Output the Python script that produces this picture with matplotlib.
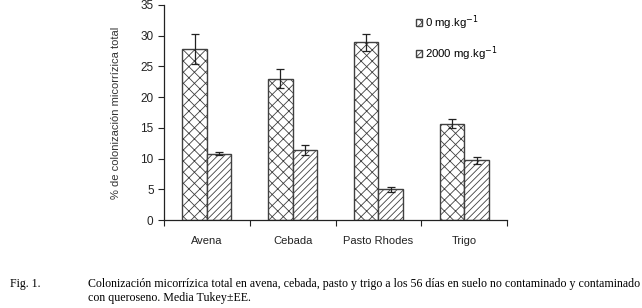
import numpy as np
import matplotlib
matplotlib.use("Agg")
import matplotlib.pyplot as plt
from matplotlib.patches import Patch

plt.rcParams["font.family"] = ["Liberation Sans", "DejaVu Sans"]
plt.rcParams["hatch.linewidth"] = 0.6

cultivos = ["Avena", "Cebada", "Pasto Rhodes", "Trigo"]
control = [27.8, 23.0, 28.9, 15.7]
control_ee = [2.4, 1.5, 1.4, 0.7]
queroseno = [10.8, 11.4, 5.0, 9.7]
queroseno_ee = [0.3, 0.8, 0.4, 0.6]
series = ["0 mg.kg$^{-1}$", "2000 mg.kg$^{-1}$"]

fig = plt.figure(figsize=(6.42, 3.08), dpi=100)
ax = fig.add_axes([0.2555, 0.2857, 0.5345, 0.6981])

x = np.arange(len(cultivos)) + 0.5
w = 0.285
edge = "#404040"
ax.bar(x - w / 2, control, w, color="white", edgecolor=edge, hatch="xxx", linewidth=1.0)
ax.bar(x + w / 2, queroseno, w, color="white", edgecolor=edge, hatch="/////", linewidth=1.0)
ax.errorbar(x - w / 2, control, yerr=control_ee, fmt="none", ecolor="#222222", elinewidth=0.9, capsize=3, capthick=0.9)
ax.errorbar(x + w / 2, queroseno, yerr=queroseno_ee, fmt="none", ecolor="#222222", elinewidth=0.9, capsize=3, capthick=0.9)

ax.set_xlim(0, 4)
ax.set_ylim(0, 35)
ax.set_yticks(range(0, 36, 5))
ax.set_xticks(range(0, 5))
ax.set_xticklabels([])
for xi, name in zip(x, cultivos):
    ax.text(xi, -3.4, name, ha="center", va="center", fontsize=8, color="#222222")
ax.tick_params(axis="y", labelsize=8.5, length=4, colors="#222222", width=0.8)
ax.tick_params(axis="x", length=4, width=0.8, colors="#222222")
for s in ["top", "right"]:
    ax.spines[s].set_visible(False)
for s in ["left", "bottom"]:
    ax.spines[s].set_color("#222222")
    ax.spines[s].set_linewidth(0.9)
ax.set_ylabel("% de colonización micorrízica total", fontsize=8, color="#333333", labelpad=14)

handles = [Patch(facecolor="white", edgecolor=edge, hatch="xxx"),
           Patch(facecolor="white", edgecolor=edge, hatch="/////")]
ax.legend(handles, series, loc="upper left", bbox_to_anchor=(0.71, 1.0), frameon=False,
          fontsize=8.2, handlelength=0.6, handleheight=0.6, handletextpad=0.2, labelspacing=1.15,
          borderaxespad=0.3)

fig.text(10 / 642, 1 - 284 / 308, "Fig. 1.", family="Liberation Serif", fontsize=8.6, va="center")
fig.text(88 / 642, 1 - 284 / 308,
         "Colonización micorrízica total en avena, cebada, pasto y trigo a los 56 días en suelo no contaminado y contaminado",
         family="Liberation Serif", fontsize=8.6, va="center")
fig.text(88 / 642, 1 - 298 / 308, "con queroseno. Media Tukey±EE.",
         family="Liberation Serif", fontsize=8.6, va="center")

fig.savefig("out.png", dpi=100)
